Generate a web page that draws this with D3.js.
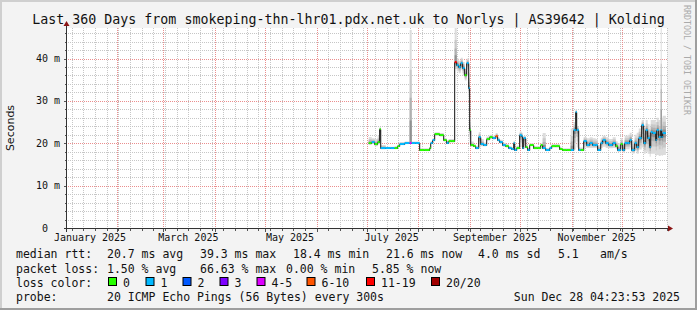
<!DOCTYPE html>
<html>
<head>
<meta charset="utf-8">
<script src="https://cdn.jsdelivr.net/npm/d3@7"></script>
<style>
  body { margin: 0; background: #f3f3f3; }
  svg text { font-family: "DejaVu Sans Mono", monospace; }
</style>
</head>
<body>
<div id="chart"></div>
<script>
var svgWidth = 697;
var svgHeight = 310;

var plot = { left: 67, top: 28, width: 600, height: 200 };

// ---- data ----
var startTime = new Date(2025, 0, 2, 4, 23, 53);
var endTime = new Date(2025, 11, 28, 4, 23, 53);
var dataEnd = "2025-12-27T12";

var stepTimes = [
  "2025-07-02T05", "2025-07-04T00", "2025-07-05T19", "2025-07-07T14", "2025-07-08T19", "2025-07-09T10",
  "2025-07-12T10", "2025-07-15T10", "2025-07-17T19", "2025-07-19T14", "2025-07-20T19", "2025-07-23T19",
  "2025-07-26T19", "2025-07-28T00", "2025-07-30T10", "2025-08-01T19", "2025-08-04T19", "2025-08-07T19",
  "2025-08-08T10", "2025-08-09T14", "2025-08-10T19", "2025-08-13T19", "2025-08-16T05", "2025-08-18T00",
  "2025-08-19T05", "2025-08-21T00", "2025-08-22T19", "2025-08-24T00", "2025-08-25T05", "2025-08-26T10",
  "2025-08-27T14", "2025-08-28T19", "2025-08-30T00", "2025-08-31T05", "2025-08-31T19", "2025-09-01T10",
  "2025-09-03T05", "2025-09-04T10", "2025-09-06T05", "2025-09-07T10", "2025-09-09T05", "2025-09-11T00",
  "2025-09-12T19", "2025-09-14T14", "2025-09-16T10", "2025-09-17T14", "2025-09-18T19", "2025-09-20T14",
  "2025-09-22T10", "2025-09-24T05", "2025-09-26T00", "2025-09-27T05", "2025-09-27T19", "2025-09-29T00",
  "2025-09-30T19", "2025-10-02T00", "2025-10-02T14", "2025-10-03T05", "2025-10-04T10", "2025-10-05T14",
  "2025-10-06T19", "2025-10-09T05", "2025-10-11T14", "2025-10-13T10", "2025-10-14T14", "2025-10-16T10",
  "2025-10-18T19", "2025-10-20T00", "2025-10-22T10", "2025-10-24T19", "2025-10-26T14", "2025-10-29T00",
  "2025-10-31T10", "2025-11-02T05", "2025-11-03T10", "2025-11-04T00", "2025-11-05T05", "2025-11-06T10",
  "2025-11-08T05", "2025-11-10T00", "2025-11-11T19", "2025-11-13T14", "2025-11-15T10", "2025-11-16T14",
  "2025-11-18T10", "2025-11-19T14", "2025-11-21T10", "2025-11-23T05", "2025-11-25T14", "2025-11-27T10",
  "2025-11-28T14", "2025-11-30T10", "2025-12-01T14", "2025-12-02T19", "2025-12-04T14", "2025-12-05T19",
  "2025-12-07T00", "2025-12-08T19", "2025-12-10T00", "2025-12-11T05", "2025-12-13T00", "2025-12-14T05",
  "2025-12-15T10", "2025-12-16T14", "2025-12-17T19", "2025-12-18T10", "2025-12-19T14", "2025-12-21T10",
  "2025-12-22T00", "2025-12-23T05", "2025-12-24T10", "2025-12-25T00", "2025-12-25T14"
];

// median rtt in ms
var medianRtt = [
  20.05, 20.28, 19.81, 20.28, 23.35, 18.87,
  18.87, 18.87, 18.87, 19.34, 19.81, 20.05,
  20.05, 20.05, 20.05, 18.40, 18.40, 18.87,
  20.05, 20.75, 22.17, 21.93, 20.75, 20.05,
  20.52, 20.52, 39.15, 38.44, 37.97, 38.92,
  37.74, 36.08, 38.92, 33.02, 23.11, 19.58,
  19.34, 18.87, 21.46, 19.81, 19.58, 21.00,
  21.46, 21.23, 21.70, 20.75, 20.28, 19.58,
  19.34, 18.87, 18.63, 20.05, 18.40, 18.87,
  21.93, 21.70, 18.87, 21.23, 19.10, 18.40,
  19.58, 18.87, 18.87, 19.58, 18.87, 18.40,
  18.87, 19.34, 19.34, 18.63, 18.40, 18.40,
  18.40, 23.11, 27.36, 23.11, 18.40, 18.40,
  20.52, 19.58, 20.05, 19.58, 19.58, 18.40,
  20.05, 20.75, 20.05, 19.58, 20.05, 19.34,
  18.40, 19.81, 18.40, 20.05, 20.05, 20.75,
  18.40, 20.05, 19.10, 21.23, 24.29, 20.05,
  23.11, 21.23, 19.10, 22.64, 22.41, 20.75,
  23.11, 21.46, 23.11, 21.46, 22.41
];

// loss class index into lossLabels
var lossClass = [
  0, 1, 0, 0, 0, 1,
  1, 1, 0, 0, 1, 1,
  4, 1, 1, 0, 0, 0,
  1, 1, 0, 0, 0, 1,
  0, 0, 6, 1, 1, 1,
  1, 0, 1, 1, 0, 0,
  0, 1, 1, 1, 1, 0,
  0, 1, 5, 1, 1, 1,
  0, 1, 1, 1, 1, 0,
  1, 1, 1, 1, 0, 1,
  0, 0, 0, 0, 1, 1,
  1, 0, 0, 0, 0, 0,
  1, 1, 1, 1, 1, 0,
  1, 1, 1, 1, 1, 1,
  1, 1, 1, 1, 1, 0,
  1, 0, 1, 1, 1, 1,
  1, 1, 1, 1, 1, 1,
  1, 1, 1, 1, 1, 1,
  1, 1, 1, 1, 1
];

// smoke: lowest and highest ping of each step, ms
var pingMin = [
  19.6, 19.8, 19.3, 19.8, 19.5, 18.6,
  18.7, 18.7, 18.7, 19.1, 19.6, 19.8,
  19.8, 19.8, 19.8, 18.2, 18.2, 18.6,
  19.8, 20.4, 21.8, 21.6, 20.4, 19.8,
  20.2, 20.2, 37.5, 37.0, 36.5, 37.4,
  36.0, 34.8, 37.4, 30.0, 20.0, 19.2,
  19.1, 18.6, 19.0, 19.3, 19.3, 20.6,
  21.0, 20.9, 21.2, 20.4, 19.9, 19.2,
  19.0, 18.6, 18.4, 19.5, 18.2, 18.6,
  19.2, 20.0, 18.6, 19.5, 18.8, 18.2,
  19.3, 18.6, 18.6, 19.3, 18.6, 18.2,
  18.6, 19.0, 19.0, 18.4, 18.2, 18.2,
  18.2, 18.5, 22.0, 19.0, 18.2, 18.2,
  19.0, 18.9, 18.9, 18.9, 18.9, 18.2,
  18.9, 19.2, 18.9, 18.8, 18.9, 18.7,
  18.0, 18.8, 17.8, 18.6, 18.6, 19.0,
  17.6, 18.3, 17.5, 18.5, 19.0, 17.5,
  18.0, 17.5, 16.8, 17.5, 17.5, 17.0,
  17.2, 17.0, 17.2, 17.0, 17.2
];

var pingMax = [
  21.5, 21.2, 21.0, 21.8, 23.8, 19.6,
  19.2, 19.2, 19.3, 19.7, 20.3, 20.4,
  46.7, 20.4, 20.4, 18.8, 18.8, 19.2,
  20.5, 21.2, 22.6, 22.4, 21.2, 20.6,
  21.0, 21.0, 47.2, 40.0, 39.5, 40.2,
  39.2, 37.5, 40.0, 36.5, 26.0, 20.4,
  19.8, 19.4, 22.6, 21.0, 20.2, 21.6,
  22.0, 21.8, 22.4, 21.3, 20.8, 20.1,
  19.8, 19.3, 19.1, 20.6, 18.9, 19.4,
  22.8, 22.5, 19.4, 21.8, 19.6, 18.9,
  20.0, 19.3, 19.3, 20.0, 22.4, 18.9,
  19.3, 19.8, 19.8, 19.0, 18.8, 18.8,
  23.5, 25.0, 28.0, 24.0, 19.0, 19.0,
  21.5, 21.2, 21.4, 21.2, 21.0, 19.5,
  21.3, 21.8, 21.4, 21.0, 21.4, 20.5,
  20.0, 21.2, 20.0, 21.8, 22.0, 22.5,
  20.5, 22.0, 22.5, 23.5, 25.5, 23.5,
  25.5, 24.5, 23.0, 25.5, 25.5, 25.0,
  26.0, 25.5, 47.2, 26.0, 26.5
];

var lossLabels = ["0", "1", "2", "3", "4-5", "6-10", "11-19", "20/20"];
var lossColors = ["#26ff00", "#00b8ff", "#0059ff", "#7e00ff", "#dd00ff", "#ff5500", "#ff0000", "#a10000"];

var yTickValues = [0, 10, 20, 30, 40];
var yTickLabels = ["0", "10 m", "20 m", "30 m", "40 m"];
var xLabelDates = ["2025-01-16", "2025-03-16", "2025-05-16", "2025-07-16", "2025-09-16", "2025-11-16"];
var xLabelTexts = ["January 2025", "March 2025", "May 2025", "July 2025", "September 2025", "November 2025"];

var titleText = "Last 360 Days from smokeping-thn-lhr01.pdx.net.uk to Norlys | AS39642 | Kolding";
var rttLegend = [["median rtt:", 16], ["20.7 ms avg", 107], ["39.3 ms max", 200], ["18.4 ms min", 293],
                 ["21.6 ms now", 386], ["4.0 ms sd", 478], ["5.1", 558], ["am/s", 600]];
var lossLegend = [["packet loss:", 16], ["1.50 % avg", 107], ["66.63 % max", 200], ["0.00 % min", 286],
                  ["5.85 % now", 372]];
var lossBoxX = [108, 145.5, 182.5, 219.5, 256.5, 306.5, 366, 431];
var probeText = "20 ICMP Echo Pings (56 Bytes) every 300s";
var stampText = "Sun Dec 28 04:23:53 2025";

// ---- scales ----
var parseTime = d3.timeParse("%Y-%m-%dT%H");
var parseDay = d3.timeParse("%Y-%m-%d");

var xScale = d3.scaleTime()
  .domain([startTime, endTime])
  .range([plot.left, plot.left + plot.width]);

var yScale = d3.scaleLinear()
  .domain([0, 47.2])
  .range([plot.top + plot.height, plot.top]);

var steps = stepTimes.map(function(t, i) {
  return { t: parseTime(t), med: medianRtt[i], loss: lossClass[i], lo: pingMin[i], hi: pingMax[i] };
});
var lastStep = steps[steps.length - 1];
var points = steps.concat([{ t: parseTime(dataEnd), med: lastStep.med, loss: lastStep.loss, lo: lastStep.lo, hi: lastStep.hi }]);

var svg = d3.select("#chart")
  .append("svg")
  .attr("width", svgWidth)
  .attr("height", svgHeight);

svg.append("rect")
  .attr("width", svgWidth)
  .attr("height", svgHeight)
  .attr("fill", "#f3f3f3");

// plot background
svg.append("rect")
  .attr("x", plot.left)
  .attr("y", plot.top)
  .attr("width", plot.width)
  .attr("height", plot.height)
  .attr("fill", "#ffffff");

// ---- grid (rrdtool style dotted lines, drawn as single pixels) ----
var crisp = function(v) { return Math.round(v) + 0.5; };

function hDots(rows) {
  var s = "";
  rows.forEach(function(r) {
    for (var x = plot.left + 1; x < plot.left + plot.width; x += 2) s += `M${x},${r}h1v1h-1z`;
  });
  return s;
}
function vDots(cols) {
  var s = "";
  cols.forEach(function(c) {
    for (var y = plot.top; y < plot.top + plot.height; y += 2) s += `M${c},${y}h1v1h-1z`;
  });
  return s;
}

var minorY = d3.range(2, 47.2, 2).filter(function(v) { return v % 10 !== 0; });
var minorX = d3.timeSunday.range(startTime, endTime);
var majorX = d3.timeMonth.range(startTime, endTime);

svg.append("path")
  .attr("d", hDots(minorY.map(d => Math.round(yScale(d)))) + vDots(minorX.map(d => Math.round(xScale(d)))))
  .attr("fill", "#c6c6c6")
  .attr("shape-rendering", "crispEdges");

svg.append("path")
  .attr("d", hDots(yTickValues.slice(1).map(d => Math.round(yScale(d)))) + vDots(majorX.map(d => Math.round(xScale(d)))))
  .attr("fill", "#ea8e8e")
  .attr("shape-rendering", "crispEdges");

// ---- smoke ----
var smokeBands = [[1, "#dcdcdc"], [0.65, "#c8c8c8"], [0.4, "#b0b0b0"], [0.2, "#909090"]];
smokeBands.forEach(function(b) {
  var f = b[0];
  var area = d3.area()
    .curve(d3.curveStepAfter)
    .x(d => xScale(d.t))
    .y0(d => yScale(d.med + (d.lo - d.med) * f))
    .y1(d => yScale(d.med + (d.hi - d.med) * f));
  svg.append("path")
    .datum(points)
    .attr("d", area)
    .attr("fill", b[1]);
});

// ---- median line ----
var medianLine = d3.line()
  .curve(d3.curveStepAfter)
  .x(d => xScale(d.t))
  .y(d => crisp(yScale(d.med)));

svg.append("path")
  .datum(points)
  .attr("d", medianLine)
  .attr("fill", "none")
  .attr("stroke", "#111")
  .attr("stroke-width", 1);

svg.selectAll(".loss-seg")
  .data(steps)
  .enter()
  .append("line")
  .attr("x1", d => xScale(d.t))
  .attr("x2", (d, i) => xScale(points[i + 1].t))
  .attr("y1", d => yScale(d.med))
  .attr("y2", d => yScale(d.med))
  .attr("stroke", d => lossColors[d.loss])
  .attr("stroke-width", 2);

// ---- axes ----
var axisGroup = svg.append("g").attr("shape-rendering", "crispEdges");
var x0 = plot.left - 0.5;
var yBase = plot.top + plot.height + 0.5;

axisGroup.selectAll(".ytick")
  .data(d3.range(0, 47.2, 2))
  .enter()
  .append("line")
  .attr("x1", d => d % 10 === 0 ? x0 - 3 : x0 - 2)
  .attr("x2", x0)
  .attr("y1", d => crisp(yScale(d)))
  .attr("y2", d => crisp(yScale(d)))
  .attr("stroke", "#555");

axisGroup.selectAll(".xtick")
  .data(majorX)
  .enter()
  .append("line")
  .attr("x1", d => crisp(xScale(d)))
  .attr("x2", d => crisp(xScale(d)))
  .attr("y1", yBase)
  .attr("y2", yBase + 3)
  .attr("stroke", "#555");

axisGroup.selectAll(".xtick-minor")
  .data(minorX)
  .enter()
  .append("line")
  .attr("x1", d => crisp(xScale(d)))
  .attr("x2", d => crisp(xScale(d)))
  .attr("y1", yBase)
  .attr("y2", yBase + 2)
  .attr("stroke", "#555");

axisGroup.append("line")
  .attr("x1", x0).attr("x2", x0)
  .attr("y1", yBase + 3).attr("y2", plot.top - 3)
  .attr("stroke", "#333");

axisGroup.append("line")
  .attr("x1", x0 - 3).attr("x2", plot.left + plot.width + 2)
  .attr("y1", yBase).attr("y2", yBase)
  .attr("stroke", "#333");

// arrow heads
svg.append("path")
  .attr("d", `M${x0 - 3},${plot.top - 2} L${x0 + 3},${plot.top - 2} L${x0},${plot.top - 7} Z`)
  .attr("fill", "#8b1414");
svg.append("path")
  .attr("d", `M${plot.left + plot.width + 1},${yBase - 3} L${plot.left + plot.width + 1},${yBase + 3} L${plot.left + plot.width + 6},${yBase} Z`)
  .attr("fill", "#8b1414");

// tick labels
svg.selectAll(".ylabel")
  .data(yTickValues)
  .enter()
  .append("text")
  .attr("x", (d, i) => i === 0 ? 48 : 60)
  .attr("y", d => yScale(d) + 3.5)
  .attr("text-anchor", "end")
  .style("font-size", "10px")
  .attr("fill", "#111")
  .text((d, i) => yTickLabels[i]);

svg.selectAll(".xlabel")
  .data(xLabelDates)
  .enter()
  .append("text")
  .attr("x", d => xScale(parseDay(d)))
  .attr("y", 241)
  .attr("text-anchor", "middle")
  .style("font-size", "10px")
  .attr("fill", "#111")
  .text((d, i) => xLabelTexts[i]);

svg.append("text")
  .attr("transform", "translate(14, 128) rotate(-90)")
  .attr("text-anchor", "middle")
  .style("font-family", "'DejaVu Sans', sans-serif")
  .style("font-size", "11px")
  .attr("fill", "#111")
  .text("Seconds");

// ---- title & watermark ----
svg.append("text")
  .attr("x", svgWidth / 2)
  .attr("y", 23.5)
  .attr("text-anchor", "middle")
  .style("font-size", "13.3px")
  .attr("fill", "#111")
  .text(titleText);

svg.append("text")
  .attr("transform", "translate(684, 5) rotate(90)")
  .style("font-size", "8.3px")
  .attr("fill", "#aaa")
  .text("RRDTOOL / TOBI OETIKER");

// ---- legend ----
var legendGroup = svg.append("g").style("font-size", "11.5px").attr("fill", "#111");

legendGroup.selectAll(".rtt")
  .data(rttLegend)
  .enter()
  .append("text")
  .attr("x", d => d[1])
  .attr("y", 258)
  .text(d => d[0]);

legendGroup.selectAll(".loss")
  .data(lossLegend)
  .enter()
  .append("text")
  .attr("x", d => d[1])
  .attr("y", 272.5)
  .text(d => d[0]);

legendGroup.append("text").attr("x", 16).attr("y", 286.5).text("loss color:");

legendGroup.selectAll(".lbox")
  .data(lossLabels)
  .enter()
  .append("rect")
  .attr("x", (d, i) => lossBoxX[i] + 0.5)
  .attr("y", 277.5)
  .attr("width", 8)
  .attr("height", 8)
  .attr("fill", (d, i) => lossColors[i])
  .attr("stroke", "#000");

legendGroup.selectAll(".llabel")
  .data(lossLabels)
  .enter()
  .append("text")
  .attr("x", (d, i) => lossBoxX[i] + 15)
  .attr("y", 286.5)
  .text(d => d);

legendGroup.append("text").attr("x", 16).attr("y", 300.5).text("probe:");
legendGroup.append("text").attr("x", 107).attr("y", 300.5).text(probeText);
legendGroup.append("text").attr("x", 680).attr("y", 300.5).attr("text-anchor", "end").text(stampText);

// ---- 3d frame ----
svg.append("path").attr("d", `M1,${svgHeight} L1,1 L${svgWidth},1`).attr("fill", "none").attr("stroke", "#cfcfcf").attr("stroke-width", 2);
svg.append("path").attr("d", `M0,${svgHeight - 1} L${svgWidth - 1},${svgHeight - 1} L${svgWidth - 1},0`).attr("fill", "none").attr("stroke", "#9e9e9e").attr("stroke-width", 2);
</script>
</body>
</html>
